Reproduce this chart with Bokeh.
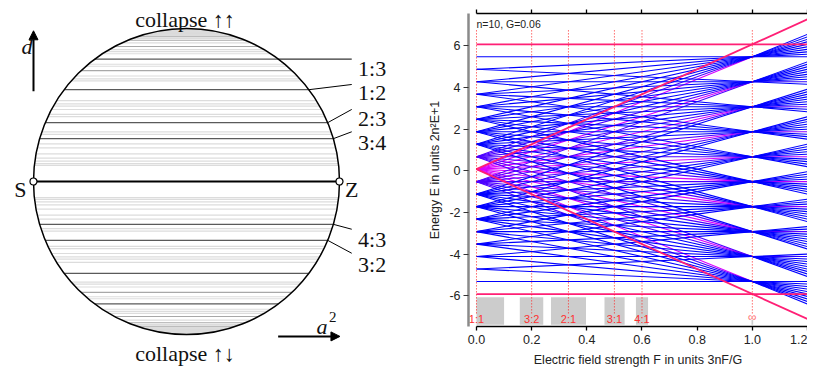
import numpy as np
from bokeh.plotting import figure
from bokeh.layouts import row
from bokeh.models import Range1d, LinearAxis, Arrow, NormalHead, ColumnDataSource, FixedTicker
from bokeh.core.properties import value
from bokeh.embed import file_html
from bokeh.resources import INLINE

# ---------------- data: left diagram (resonances p:q, d = (q^2-p^2)/(q^2+p^2)) ----------------
labeled_res = ["1:3", "1:2", "2:3", "3:4", "4:3", "3:2"]
unlabeled_major_res = ["2:1", "3:1"]
medium_res = ["1:4", "1:5", "1:6", "2:5", "4:1", "5:1", "6:1", "5:2"]
light_res_upper = ["1:7", "3:5", "1:8", "2:7", "4:5", "1:9", "3:7", "1:10", "2:9", "3:8", "4:7",
                   "5:6", "1:11", "5:7", "1:12", "2:11", "3:10", "4:9", "5:8", "6:7", "1:13",
                   "3:11", "5:9", "1:14", "2:13", "4:11", "7:8", "7:9", "8:9", "9:10", "5:11",
                   "7:11", "7:12", "8:11", "1:16", "1:18"]
light_res_lower = [r.split(":")[1] + ":" + r.split(":")[0] for r in light_res_upper]
collapse_d = 0.955

# ---------------- data: right chart ----------------
n_q = 10
G_field = 0.06
level_spacing = n_q * G_field          # nG
energy_offset = 0.08
m_vals = [-4.5, -3.5, -2.5, -1.5, -0.5, 0.5, 1.5, 2.5, 3.5, 4.5]
F_nodes = [0.0, 1.0, 1.2]
res_labels = ["1:1", "3:2", "2:1", "3:1", "4:1", "\u221e"]
res_p = [1, 3, 2, 3, 4, 1]
res_q = [1, 2, 1, 1, 1, 0]
box_F0 = [0.0, 0.157, 0.27, 0.464, 0.578, 0.997]
box_F1 = [0.10, 0.242, 0.397, 0.537, 0.622, 1.003]
box_top = [-6.07, -6.07, -6.07, -6.07, -6.07, -7.15]
box_bottom = -7.4
x_ticks = [0.0, 0.2, 0.4, 0.6, 0.8, 1.0, 1.2]
y_ticks = [-6, -4, -2, 0, 2, 4, 6]


def d_of(r):
    p, q = [float(v) for v in r.split(":")]
    return (q * q - p * p) / (q * q + p * p)


SERIF = "Liberation Serif"
SANS = "Liberation Sans"
H = 369

# ================= LEFT FIGURE =================
s = 153.0  # px per unit
cx, cy = 186.0, 181.0
WL = 425
L = figure(width=WL, height=H, x_range=Range1d(-cx / s, (WL - cx) / s),
           y_range=Range1d(-(H - cy) / s, cy / s), output_backend="svg",
           toolbar_location=None, min_border=0, x_axis_type=None, y_axis_type=None)
L.grid.visible = False
L.outline_line_color = None
try:
    L.frame_align = False
except Exception:
    pass

# collapse caps
th0 = np.arcsin(collapse_d)
th = np.linspace(th0, np.pi - th0, 80)
L.patch(np.cos(th), np.sin(th), fill_color="#d2d2d2", line_color=None)
L.patch(np.cos(th), -np.sin(th), fill_color="#d2d2d2", line_color=None)


def chords(res_list, color, width):
    d = np.array([d_of(r) for r in res_list])
    hw = np.sqrt(1 - d ** 2)
    L.segment(x0=-hw, x1=hw, y0=d, y1=d, line_color=color, line_width=width)


chords(light_res_upper + light_res_lower, "#dcdcdc", 1.2)
chords(medium_res, "#a8a8a8", 1.2)
chords(labeled_res + unlabeled_major_res, "#5a5a5a", 1.3)
chords(["1:1"], "black", 2.0)

L.circle(x=[0], y=[0], radius=1, fill_color=None, line_color="black", line_width=1.5)

# leaders and labels
label_x = 1.121
leader_end_x = 1.08
leader_y = [0.80, 0.634, 0.471, 0.325, -0.312, -0.469]
label_base_y = [0.737, 0.58, 0.4125, 0.256, -0.381, -0.544]
dl = np.array([d_of(r) for r in labeled_res])
L.segment(x0=np.sqrt(1 - dl ** 2), y0=dl, x1=[leader_end_x] * len(dl), y1=leader_y,
          line_color="black", line_width=1)
L.text(x=[label_x] * len(dl), y=label_base_y, text=labeled_res, text_font=value(SERIF),
       text_font_size="22px", text_align="left", text_baseline="alphabetic", text_color="#111")

L.scatter(x=[-1, 1], y=[0, 0], size=7, marker="circle", fill_color="white",
          line_color="black", line_width=1.2)
L.text(x=[-1.086, 1.08], y=[-0.053, -0.053], text=["S", "Z"], text_font=value(SERIF),
       text_font_size="22px", text_align="center", text_baseline="alphabetic", text_color="#111")
L.text(x=[-0.01, -0.01], y=[1.056, -1.125], text=["collapse \u2191\u2191", "collapse \u2191\u2193"],
       text_font=value(SERIF), text_font_size="22px", text_align="center",
       text_baseline="alphabetic", text_color="#111")
L.text(x=[-1.078], y=[0.881], text=["d"], text_font=value(SERIF), text_font_size="22px",
       text_font_style="italic", text_align="left", text_baseline="alphabetic", text_color="#111")
L.text(x=[0.85], y=[-0.95], text=["a"], text_font=value(SERIF), text_font_size="22px",
       text_font_style="italic", text_align="left", text_baseline="alphabetic", text_color="#111")
L.text(x=[0.931], y=[-0.887], text=["2"], text_font=value(SERIF), text_font_size="15px",
       text_align="left", text_baseline="alphabetic", text_color="#111")
L.add_layout(Arrow(end=NormalHead(size=9, fill_color="black", line_color="black"),
                   x_start=-1.0, y_start=0.59, x_end=-1.0, y_end=0.985,
                   line_color="black", line_width=2))
L.add_layout(Arrow(end=NormalHead(size=9, fill_color="black", line_color="black"),
                   x_start=0.599, y_start=-1.0125, x_end=1.003, y_end=-1.0125,
                   line_color="black", line_width=2))

# ================= RIGHT FIGURE =================
WR = 807 - WL
R = figure(width=WR, height=H, x_range=Range1d(-0.029, 1.2), y_range=Range1d(-7.48, 7.56),
           output_backend="svg", toolbar_location=None, min_border_left=43,
           min_border_right=0, min_border_top=13, min_border_bottom=40)
R.grid.visible = False
R.outline_line_color = None
try:
    R.frame_align = False
except Exception:
    pass


def mix(w):
    # blend blue -> magenta
    return "#%02x00ff" % int(round(0xd8 * w))


segs = dict(x0=[], y0=[], x1=[], y1=[], c=[], o=[])
for m1 in m_vals:
    for m2 in m_vals:
        E = [energy_offset + level_spacing * (m1 * (1 + F) + m2 * abs(1 - F)) for F in F_nodes]
        k = abs(m1 + m2)
        w_pre = 1.0 if k == 0 else (0.35 if k == 1 else 0.0)
        w_post = (1.0 - (abs(m1) - 0.5) / 4.0) * 0.85 if k == 0 else 0.0
        for j, w in ((0, w_pre), (1, w_post)):
            segs["x0"].append(F_nodes[j])
            segs["x1"].append(F_nodes[j + 1])
            segs["y0"].append(E[j])
            segs["y1"].append(E[j + 1])
            segs["c"].append(mix(w))
            segs["o"].append(-w)
idx = np.argsort(segs["o"], kind="stable")
src = ColumnDataSource({key: [segs[key][i] for i in idx] for key in ("x0", "y0", "x1", "y1", "c")})
R.segment(x0="x0", y0="y0", x1="x1", y1="y1", line_color="c", line_width=1.1, source=src)

# boundaries (pink)
Emax = n_q * level_spacing
Fb = [F_nodes[0], F_nodes[-1]]
pink = "#ff1f75"
for sgn in (1, -1):
    R.line(Fb, [energy_offset + sgn * Emax] * 2, line_color=pink, line_width=1.8)
    R.line(Fb, [energy_offset + sgn * Emax * F for F in Fb], line_color=pink, line_width=1.8)

# gray boxes
R.quad(left=box_F0, right=box_F1, top=box_top, bottom=box_bottom, fill_color="#cccccc",
       line_color=None)

# resonance dotted lines and labels
res_F = [(p - q) / (p + q) for p, q in zip(res_p, res_q)]
R.segment(x0=res_F, x1=res_F, y0=[-6.85] * len(res_F), y1=[6.8] * len(res_F),
          line_color="#ff2020", line_dash="1 2", line_width=1)
R.text(x=res_F[:-1], y=[-7.1] * (len(res_F) - 1), text=res_labels[:-1], text_font=value(SANS),
       text_font_size="11px", text_align="center", text_baseline="middle", text_color="#ff3030")
R.text(x=res_F[-1:], y=[-7.04], text=res_labels[-1:], text_font=value(SANS),
       text_font_size="12px", text_align="center", text_baseline="middle", text_color="#ff7070")

R.text(x=[0.0], y=[7.07], text=["n=%d, G=%.2f" % (n_q, G_field)], text_font=value(SANS),
       text_font_size="10.5px", text_align="left", text_baseline="middle", text_color="#222")

# axes
xa = R.xaxis[0]
xa.ticker = FixedTicker(ticks=x_ticks)
xa.major_label_overrides = {t: "%.1f" % t for t in x_ticks}
xa.bounds = (0, 1.2)
xa.axis_line_color = "black"
xa.axis_line_width = 1.3
xa.major_tick_line_color = "black"
xa.major_tick_line_width = 1.3
xa.major_tick_in = 0
xa.major_tick_out = 4
xa.minor_tick_line_color = None
xa.major_label_text_font = SANS
xa.major_label_text_font_size = "12.5px"
xa.major_label_text_color = "#222"
xa.major_label_standoff = 4
xa.axis_label = "Electric field strength F in units 3nF/G"
xa.axis_label_text_font = SANS
xa.axis_label_text_font_size = "12.5px"
xa.axis_label_text_font_style = "normal"
xa.axis_label_text_color = "#222"
xa.axis_label_standoff = 6

ya = R.yaxis[0]
ya.ticker = FixedTicker(ticks=y_ticks)
ya.major_label_overrides = {t: str(t) for t in y_ticks}
ya.axis_line_color = "#8a8a8a"
ya.axis_line_width = 2.5
ya.major_tick_line_color = "#333"
ya.major_tick_line_width = 1.2
ya.major_tick_in = 0
ya.major_tick_out = 5
ya.minor_tick_line_color = None
ya.major_label_text_font = SANS
ya.major_label_text_font_size = "12.5px"
ya.major_label_text_color = "#222"
ya.major_label_standoff = 3
ya.axis_label = "Energy E in units 2n\u00b2E+1"
ya.axis_label_text_font = SANS
ya.axis_label_text_font_size = "12.5px"
ya.axis_label_text_font_style = "normal"
ya.axis_label_text_color = "#222"
ya.axis_label_standoff = 4

top = LinearAxis(ticker=FixedTicker(ticks=x_ticks), bounds=(0, 1.2), axis_line_color="black",
                 axis_line_width=1.3, major_tick_line_color="black", major_tick_line_width=1.3,
                 major_tick_in=0, major_tick_out=4, minor_tick_line_color=None,
                 major_label_text_font_size="1px", major_label_text_color=None,
                 major_label_standoff=0)
R.add_layout(top, "above")

layout = row(L, R)
open("out.html", "w").write(file_html(layout, INLINE))
